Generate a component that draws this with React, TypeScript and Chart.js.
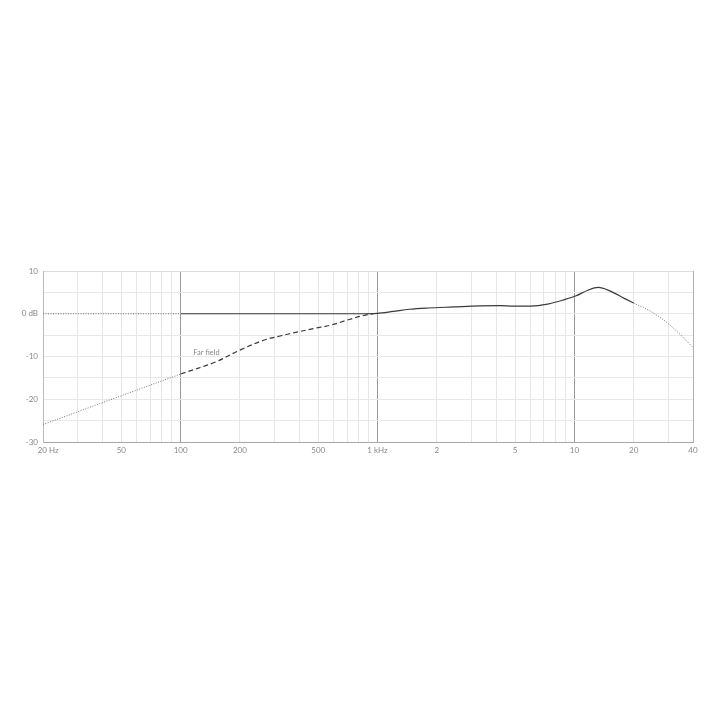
import React, { useEffect, useRef } from "react";
import { Chart, registerables } from "chart.js";

Chart.register(...registerables);

// X tick positions and labels (log frequency axis)
const xTickValues = [
  20, 30, 40, 50, 60, 70, 80, 90,
  100, 200, 300, 400, 500, 600, 700, 800, 900,
  1000, 2000, 3000, 4000, 5000, 6000, 7000, 8000, 9000,
  10000, 20000, 30000, 40000,
];
const xTickLabels: Record<number, string> = {
  20: "     20 Hz",
  50: "50",
  100: "100",
  200: "200",
  500: "500",
  1000: "1 kHz",
  2000: "2",
  5000: "5",
  10000: "10",
  20000: "20",
  40000: "40",
};
const yTickLabels: Record<number, string> = {
  10: "10",
  0: "0 dB",
  "-10": "-10",
  "-20": "-20",
  "-30": "-30",
};

// Main response (solid)
const mainFreq = [100, 400, 800, 1000, 1200, 1450, 1800, 2430, 3300, 4200, 4900, 6000, 7300, 8900, 10200, 11700, 13200, 15200, 17900, 20000];
const mainDb = [0, 0, 0, 0.1, 0.55, 1.05, 1.35, 1.6, 1.85, 1.9, 1.8, 1.8, 2.25, 3.3, 4.2, 5.5, 6.15, 5.3, 3.6, 2.5];

// Main response extensions (dotted)
const mainLowFreq = [20, 100];
const mainLowDb = [0, 0];
const mainHighFreq = [20000, 24300, 29200, 34000, 40000];
const mainHighDb = [2.5, 0.6, -1.9, -4.6, -7.9];

// Far field (dashed)
const farFreq = [100, 150, 200, 264, 320, 390, 480, 575, 700, 850, 950];
const farDb = [-14.1, -11.3, -8.5, -6.2, -5.2, -4.3, -3.4, -2.7, -1.5, -0.4, 0];

// Far field extension (dotted)
const farLowFreq = [20, 100];
const farLowDb = [-25.9, -14.1];

const farLabel = { text: "Far field", freq: 116, db: -9 };

const pts = (xs: number[], ys: number[]) => xs.map((x, i) => ({ x, y: ys[i] }));

export default function App() {
  const ref = useRef<HTMLCanvasElement | null>(null);

  useEffect(() => {
    if (!ref.current) return;
    const labelPlugin = {
      id: "farLabel",
      afterDatasetsDraw(chart: any) {
        const { ctx, scales } = chart;
        const px = scales.x.getPixelForValue(farLabel.freq);
        const py = scales.y.getPixelForValue(farLabel.db);
        ctx.save();
        ctx.font = "7.5px Lato";
        ctx.fillStyle = "#888";
        ctx.textAlign = "left";
        ctx.textBaseline = "middle";
        ctx.fillText(farLabel.text, px, py);
        ctx.restore();
      },
    };

    const dotted = { borderColor: "#777", borderWidth: 1, borderDash: [1, 1.5], pointRadius: 0, fill: false };

    const chart = new Chart(ref.current, {
      type: "line",
      data: {
        datasets: [
          { data: pts(mainFreq, mainDb), borderColor: "#3a3a3a", borderWidth: 1.2, pointRadius: 0, cubicInterpolationMode: "monotone", fill: false },
          { data: pts(mainLowFreq, mainLowDb), ...dotted },
          { data: pts(mainHighFreq, mainHighDb), ...dotted, cubicInterpolationMode: "monotone" },
          { data: pts(farFreq, farDb), borderColor: "#3a3a3a", borderWidth: 1.2, borderDash: [5, 3], pointRadius: 0, tension: 0.35, fill: false },
          { data: pts(farLowFreq, farLowDb), ...dotted },
        ] as any,
      },
      options: {
        animation: false,
        responsive: false,
        maintainAspectRatio: false,
        layout: { padding: { top: 271, left: 0, right: 27, bottom: 258 } },
        plugins: { legend: { display: false }, tooltip: { enabled: false } },
        scales: {
          x: {
            type: "logarithmic",
            min: 20,
            max: 40000,
            afterBuildTicks: (scale: any) => {
              scale.ticks = xTickValues.map((v) => ({ value: v }));
            },
            afterFit: (scale: any) => {
              scale.height = 20;
            },
            ticks: {
              autoSkip: false,
              maxRotation: 0,
              padding: 4,
              color: "#888",
              font: { family: "Lato", size: 8 },
              callback: (v: any) => xTickLabels[Number(v)] ?? "",
            },
            grid: {
              drawTicks: false,
              lineWidth: 1,
              color: (c: any) => {
                const v = c.tick?.value;
                if (v === 100 || v === 1000 || v === 10000) return "#9a9a9a";
                if (v === 40000) return "#b0b0b0";
                return "#e6e6e6";
              },
            },
            border: { color: "#a8a8a8", width: 1 },
          },
          y: {
            type: "linear",
            min: -30,
            max: 10,
            afterFit: (scale: any) => {
              scale.width = 43;
            },
            ticks: {
              stepSize: 5,
              padding: 5,
              color: "#888",
              font: { family: "Lato", size: 8 },
              callback: (v: any) => yTickLabels[Number(v)] ?? "",
            },
            grid: {
              drawTicks: false,
              lineWidth: 1,
              color: (c: any) => (c.tick?.value === 10 ? "#dddddd" : "#e8e8e8"),
            },
            border: { color: "#bdbdbd", width: 1 },
          },
        },
      } as any,
      plugins: [labelPlugin],
    });
    return () => chart.destroy();
  }, []);

  return (
    <div style={{ position: "fixed", left: 0, top: 0, width: 720, height: 720, background: "#fff" }}>
      <canvas ref={ref} width={720} height={720} style={{ width: 720, height: 720, display: "block" }} />
    </div>
  );
}
